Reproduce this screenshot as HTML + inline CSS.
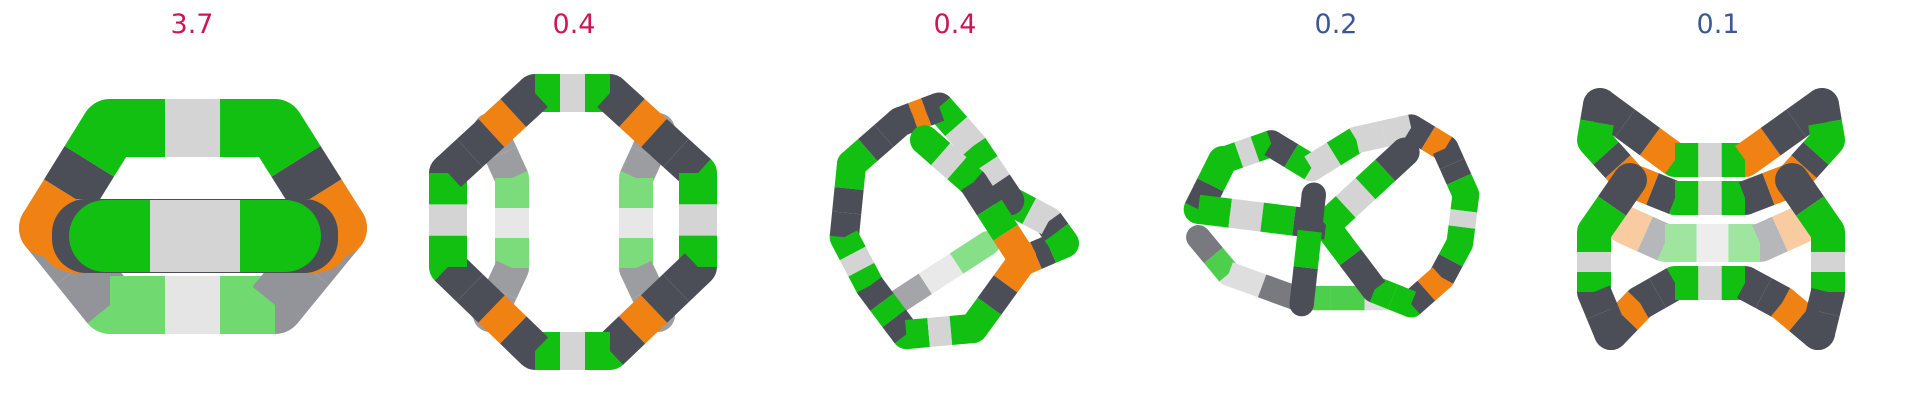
<!DOCTYPE html>
<html><head><meta charset="utf-8"><style>
html,body{margin:0;padding:0;background:#fff;}
svg{display:block;}
</style></head><body>
<svg id="fig" width="1907" height="416" viewBox="0 0 1907 416" xmlns="http://www.w3.org/2000/svg">
<g id="labels"></g>
<g id="mols"></g>
</svg>
<script>
const values = ["3.7","0.4","0.4","0.2","0.1"];
const labelColors = ["#cc1655","#cc1655","#cc1655","#3a5894","#3a5894"];
const centers = [192,574,955,1336,1718];
const NS="http://www.w3.org/2000/svg";
const C={g:"#12c012",w:"#d4d4d4",d:"#4b4e56",o:"#f08214",m:"#8a8d94"};
const lab=document.getElementById('labels');
values.forEach((v,i)=>{
  const t=document.createElementNS(NS,'text');
  t.setAttribute('x',centers[i]);t.setAttribute('y',33);
  t.setAttribute('text-anchor','middle');
  t.setAttribute('font-family','"DejaVu Sans","Liberation Sans",sans-serif');
  t.setAttribute('font-size','27');t.setAttribute('fill',labelColors[i]);
  t.textContent=v;
  
  
  lab.appendChild(t);
});
const mols=document.getElementById('mols');
function grp(name,tf){const g=document.createElementNS(NS,'g');if(tf)g.setAttribute('transform',tf);
  
  
  mols.appendChild(g);return g;}
function line(g,a,b,col,w){const l=document.createElementNS(NS,'line');
  l.setAttribute('x1',a[0]);l.setAttribute('y1',a[1]);l.setAttribute('x2',b[0]);l.setAttribute('y2',b[1]);
  l.setAttribute('stroke',col);l.setAttribute('stroke-width',w);l.setAttribute('stroke-linecap','butt');
  g.appendChild(l);}
function dot(g,p,col,w){const c=document.createElementNS(NS,'circle');
  c.setAttribute('cx',p[0]);c.setAttribute('cy',p[1]);c.setAttribute('r',w/2);c.setAttribute('fill',col);
  g.appendChild(c);}
function tube(g,pts,pats,w,op){
  let sub=g;
  if(op){sub=document.createElementNS(NS,'g');sub.setAttribute('opacity',op);g.appendChild(sub);}
  for(let i=0;i<pts.length;i++){
    let col;
    if(i<pts.length-1) col=C[pats[i%pats.length][0]]; else col=C[pats[(i-1)%pats.length].slice(-1)];
    dot(sub,pts[i],col,w);
  }
  for(let i=0;i<pts.length-1;i++){
    const p=pats[i%pats.length],a=pts[i],b=pts[i+1],n=p.length;
    for(let k=0;k<n;k++){
      const s=[a[0]+(b[0]-a[0])*k/n,a[1]+(b[1]-a[1])*k/n];
      const e=[a[0]+(b[0]-a[0])*(k+1)/n,a[1]+(b[1]-a[1])*(k+1)/n];
      line(sub,s,e,C[p[k]],w);
    }
  }
}
const A="gwg";
// structure 1
let g1=grp('structure-1');
tube(g1,[[48,228],[110,305],[275,305],[338,228]],["dd",A,"dd"],58,0.6);
tube(g1,[[48,228],[110,128],[275,128],[338,228]],["odg","gwg","gdo"],58);
const fr=document.createElementNS(NS,'rect');fr.setAttribute('x',38);fr.setAttribute('y',199);fr.setAttribute('width',314);fr.setAttribute('height',74);fr.setAttribute('rx',37);fr.setAttribute('fill',C.o);g1.appendChild(fr);
const fr2=document.createElementNS(NS,'rect');fr2.setAttribute('x',52);fr2.setAttribute('y',199);fr2.setAttribute('width',286);fr2.setAttribute('height',74);fr2.setAttribute('rx',34);fr2.setAttribute('fill',C.d);g1.appendChild(fr2);
tube(g1,[[105,236],[285,236]],["gwwg"],72);
// structure 2
let g2=grp('structure-2');
tube(g2,[[490,130],[512,178],[512,268],[490,315]],["dd",A,"dd"],34,0.55);
tube(g2,[[658,130],[636,178],[636,268],[658,315]],["dd",A,"dd"],34,0.55);
tube(g2,[[535,93],[610,93],[698,173],[698,267],[610,351],[535,351],[448,267],[448,173],[535,93]],[A,"dodd","gwg","ddod","gwg","dodd","gwg","ddod"],38);
// structure 3 (display coords scaled)
let g3=grp('structure-3','scale(1.2165)');
tube(g3,[[735,250],[812,200]],["dwg"],20,0.5);
tube(g3,[[700,135],[694,195],[715,235],[745,275],[800,270],[840,215]],["gdd","gwg","dgd","gwg","gdo"],24);
tube(g3,[[840,215],[875,200],[862,182],[830,165]],["odg","gd","wg"],24);
tube(g3,[[830,165],[800,120],[772,88],[740,100],[700,135]],["dwg","wg","dod","ddg"],24);
tube(g3,[[760,115],[800,150],[840,212]],["gwg","dgo"],24);
// structure 4
let g4=grp('structure-4','scale(1.2165)');
tube(g4,[[985,195],[1010,225],[1065,245],[1150,245]],["dg","wd","ggw"],20,0.75);
tube(g4,[[1005,132],[1045,118],[1078,138],[1115,115],[1160,105],[1188,122],[1205,160],[1200,200],[1185,228],[1160,250],[1130,238],[1090,185]],["gwg","dg","wg","ww","do","ddg","gwg","gd","od","gg","dg"],22);
tube(g4,[[1005,132],[985,172],[1090,185],[1155,125]],["gd","gwgd","gwgd"],24);
tube(g4,[[1080,160],[1070,250]],["dgd"],20);
// structure 5
let g5=grp('structure-5');
tube(g5,[[1625,225],[1665,243],[1760,243],[1800,225]],["od",A,"do"],38,0.4);
tube(g5,[[1611,333],[1640,303],[1675,283],[1745,283],[1782,303],[1818,333]],["do","dd",A,"dd","od"],34);
tube(g5,[[1600,105],[1675,160],[1745,160],[1822,105]],["ddo",A,"odd"],34);
tube(g5,[[1600,105],[1594,140],[1630,180],[1675,198],[1745,198],[1792,180],[1828,140],[1822,105]],["dg","gdo","od",A,"do","odg","gd"],34);
tube(g5,[[1630,180],[1594,232],[1594,292],[1611,333]],["dg","gwg","dd"],34);
tube(g5,[[1792,180],[1828,232],[1828,292],[1818,333]],["dg","gwg","dd"],34);
</script>
</body></html>
